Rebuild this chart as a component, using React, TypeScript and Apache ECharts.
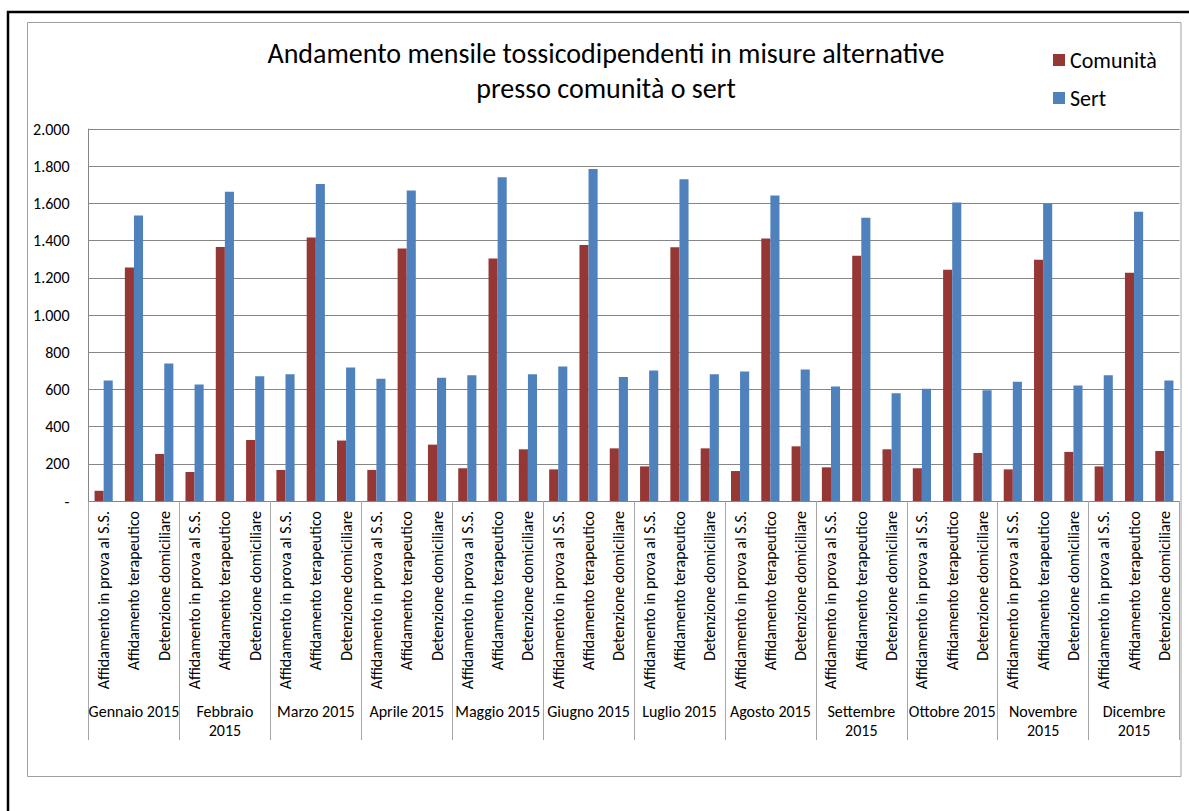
import React, { useEffect, useRef } from "react";
import * as echarts from "echarts";

const months = [
  "Gennaio 2015",
  "Febbraio\n2015",
  "Marzo 2015",
  "Aprile 2015",
  "Maggio 2015",
  "Giugno 2015",
  "Luglio 2015",
  "Agosto 2015",
  "Settembre\n2015",
  "Ottobre 2015",
  "Novembre\n2015",
  "Dicembre\n2015",
];

const measures = [
  "Affidamento in prova al S.S.",
  "Affidamento terapeutico",
  "Detenzione domiciliare",
];

const comunita = [
  55, 1255, 253,
  156, 1366, 328,
  167, 1416, 325,
  167, 1357, 303,
  176, 1304, 278,
  170, 1377, 283,
  186, 1364, 283,
  161, 1411, 294,
  181, 1319, 278,
  176, 1243, 258,
  170, 1297, 264,
  186, 1227, 269,
];

const sert = [
  648, 1535, 739,
  626, 1663, 671,
  682, 1704, 718,
  657, 1669, 662,
  676, 1741, 682,
  723, 1785, 666,
  701, 1730, 682,
  696, 1642, 707,
  615, 1523, 579,
  603, 1605, 595,
  641, 1598, 621,
  676, 1555, 648,
];

const yTicks = { min: 0, max: 2000, interval: 200 };

const FONT = "Carlito, Lato, sans-serif";

export default function App() {
  const ref = useRef<HTMLDivElement>(null);

  useEffect(() => {
    if (!ref.current) return;
    const chart = echarts.init(ref.current, undefined, { renderer: "svg" });
    const categories: string[] = [];
    months.forEach(() => measures.forEach((m) => categories.push(m)));

    const fmt = (v: number) =>
      v === 0 ? "-" : v.toString().replace(/\B(?=(\d{3})+(?!\d))/g, ".");

    chart.setOption({
      animation: false,
      backgroundColor: "#ffffff",
      textStyle: { fontFamily: FONT },
      title: {
        text: "Andamento mensile tossicodipendenti in misure alternative\npresso comunità o sert",
        left: 606,
        top: 35.5,
        padding: 0,
        textAlign: "center",
        textStyle: {
          fontFamily: FONT,
          fontSize: 28,
          fontWeight: "normal",
          color: "#000000",
          lineHeight: 35,
        },
      },
      legend: {
        orient: "vertical",
        left: 1053,
        top: 49,
        padding: 0,
        icon: "rect",
        itemWidth: 12,
        itemHeight: 12,
        itemGap: 16,
        textStyle: { fontFamily: FONT, fontSize: 22, color: "#000000", lineHeight: 22 },
        data: ["Comunità", "Sert"],
      },
      grid: { left: 88.5, right: 9.5, top: 129, bottom: 310, containLabel: false },
      xAxis: [
        {
          type: "category",
          data: categories,
          axisLine: { show: true, lineStyle: { color: "#868686", width: 1 } },
          axisTick: { show: false },
          axisLabel: {
            interval: 0,
            rotate: 90,
            margin: 10,
            fontFamily: FONT,
            fontSize: 16,
            color: "#000000",
          },
        },
        {
          type: "category",
          data: months,
          position: "bottom",
          axisLine: { show: true, lineStyle: { color: "#868686", width: 1 } },
          axisTick: { show: true, length: 239, interval: 0, lineStyle: { color: "#a6a6a6", width: 1 } },
          axisLabel: {
            interval: 0,
            margin: 201,
            fontFamily: FONT,
            fontSize: 16,
            lineHeight: 19,
            color: "#000000",
          },
        },
      ],
      yAxis: {
        type: "value",
        min: yTicks.min,
        max: yTicks.max,
        interval: yTicks.interval,
        axisLine: { show: true, lineStyle: { color: "#868686", width: 1 } },
        axisTick: { show: false },
        splitLine: { show: true, lineStyle: { color: "#868686", width: 1 } },
        axisLabel: {
          margin: 19,
          fontFamily: FONT,
          fontSize: 16,
          color: "#000000",
          formatter: fmt,
        },
      },
      series: [
        {
          name: "Comunità",
          type: "bar",
          data: comunita,
          xAxisIndex: 0,
          barGap: "0%",
          barCategoryGap: "40%",
          itemStyle: { color: "#953735" },
        },
        {
          name: "Sert",
          type: "bar",
          data: sert,
          xAxisIndex: 0,
          itemStyle: { color: "#4f81bd" },
        },
      ],
      graphic: [
        {
          type: "rect",
          shape: { x: 27.5, y: 22.5, width: 1153.5, height: 754 },
          style: { fill: "none", stroke: "#a0a0a0", lineWidth: 1 },
          silent: true,
          z: -1,
        },
        {
          type: "line",
          shape: { x1: 7, y1: 12, x2: 1189, y2: 12 },
          style: { stroke: "#000000", lineWidth: 2.5 },
          silent: true,
        },
        {
          type: "line",
          shape: { x1: 8, y1: 11, x2: 8, y2: 811 },
          style: { stroke: "#000000", lineWidth: 2.5 },
          silent: true,
        },
      ],
    });
    return () => chart.dispose();
  }, []);

  return (
    <div
      ref={ref}
      style={{ position: "fixed", left: 0, top: 0, width: 1189, height: 811 }}
    />
  );
}
